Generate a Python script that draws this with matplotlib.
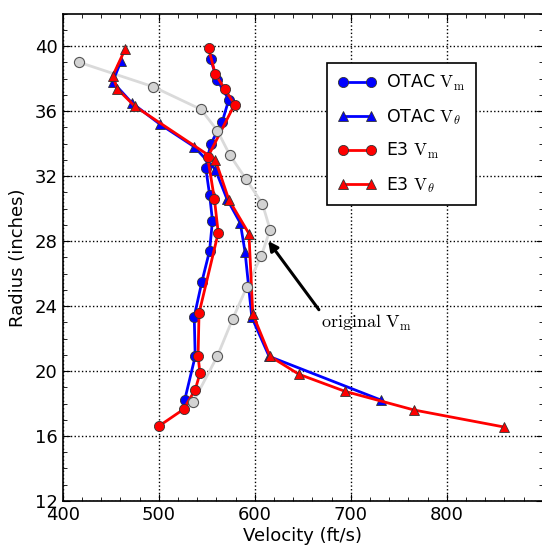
import matplotlib
matplotlib.use("Agg")
import matplotlib.pyplot as plt
from matplotlib.ticker import MultipleLocator, FixedLocator

plt.rcParams['mathtext.fontset'] = 'cm'
plt.rcParams['font.family'] = ['DejaVu Sans']

# original Vm (gray)
orig_v = [417, 494, 544, 561, 574, 591, 608, 616, 607, 592, 577, 561, 536]
orig_r = [39.0, 37.5, 36.1, 34.8, 33.3, 31.8, 30.3, 28.7, 27.1, 25.2, 23.2, 20.9, 18.1]

# OTAC Vm
otac_vm_v = [554, 561, 573, 566, 554, 549, 553, 556, 553, 545, 537, 538, 527]
otac_vm_r = [39.2, 37.9, 36.7, 35.3, 33.95, 32.5, 30.85, 29.25, 27.4, 25.5, 23.35, 20.9, 18.2]

# OTAC Vtheta
otac_vt_v = [461, 452, 472, 501, 537, 559, 571, 585, 590, 597, 615, 732]
otac_vt_r = [39.1, 37.8, 36.5, 35.2, 33.8, 32.4, 30.6, 29.1, 27.3, 23.3, 20.9, 18.2]

# E3 Vm
e3_vm_v = [552, 559, 569, 579, 551, 558, 562, 542, 541, 543, 538, 526, 500]
e3_vm_r = [39.85, 38.25, 37.35, 36.4, 33.15, 30.6, 28.5, 23.55, 20.9, 19.85, 18.85, 17.65, 16.6]

# E3 Vtheta
e3_vt_v = [465, 452, 457, 475, 559, 573, 594, 598, 616, 646, 694, 766, 860]
e3_vt_r = [39.8, 38.15, 37.35, 36.3, 33.0, 30.55, 28.45, 23.5, 20.9, 19.8, 18.75, 17.6, 16.55]

x_ticks = [400, 500, 600, 700, 800]
y_ticks = [12, 16, 20, 24, 28, 32, 36, 40]

fig = plt.figure(figsize=(5.42, 5.47), dpi=100)
ax = fig.add_axes([0.1157, 0.0841, 0.8856, 0.8912])

ms = 7.3
ax.plot(orig_v, orig_r, '-', color='#dadada', lw=2, zorder=2)

ax.plot(otac_vm_v, otac_vm_r, '-o', color='#0000ff', lw=2, ms=ms,
        mec='#333333', mew=0.6, label=r'OTAC $\mathrm{V_m}$', zorder=3)
ax.plot(otac_vt_v, otac_vt_r, '-^', color='#0000ff', lw=2, ms=ms,
        mec='#333333', mew=0.6, label=r'OTAC $\mathrm{V}_\theta$', zorder=3)
ax.plot(e3_vm_v, e3_vm_r, '-o', color='#ff0000', lw=2, ms=ms,
        mec='#333333', mew=0.6, label=r'E3 $\mathrm{V_m}$', zorder=4)
ax.plot(e3_vt_v, e3_vt_r, '-^', color='#ff0000', lw=2, ms=ms,
        mec='#333333', mew=0.6, label=r'E3 $\mathrm{V}_\theta$', zorder=4)

ax.plot(orig_v, orig_r, 'o', color='#d3d3d3', ms=ms, mec='#555555',
        mew=0.8, zorder=5)

ax.annotate(r'$\mathrm{original\ V_m}$', xy=(614, 28.0), xytext=(669, 23.6),
            ha='left', va='top', fontsize=13,
            arrowprops=dict(arrowstyle='-|>', color='black', lw=2.2,
                            mutation_scale=14, shrinkA=0, shrinkB=0,
                            relpos=(0, 1)))

ax.set_xlim(400, 900)
ax.set_ylim(12, 42)
ax.xaxis.set_major_locator(FixedLocator(x_ticks))
ax.xaxis.set_minor_locator(MultipleLocator(20))
ax.yaxis.set_major_locator(FixedLocator(y_ticks))
ax.yaxis.set_minor_locator(MultipleLocator(1))
ax.tick_params(which='both', direction='in', top=True, right=True,
               labelsize=13)
ax.tick_params(which='major', length=5)
ax.tick_params(which='minor', length=3)
ax.grid(True, which='major', color='black', linestyle=':', lw=1)
for s in ax.spines.values():
    s.set_linewidth(1.2)

ax.set_xlabel('Velocity (ft/s)', fontsize=13, labelpad=2)
ax.set_ylabel('Radius (inches)', fontsize=13, labelpad=6)

leg = ax.legend(loc='upper left', bbox_to_anchor=(0.551, 0.899),
                borderaxespad=0, fontsize=12.5, numpoints=2, fancybox=False,
                framealpha=1, edgecolor='black', handlelength=2.2,
                handletextpad=0.6, labelspacing=0.8, borderpad=0.6)
leg.get_frame().set_linewidth(1.2)

fig.savefig('out.png', dpi=100)
